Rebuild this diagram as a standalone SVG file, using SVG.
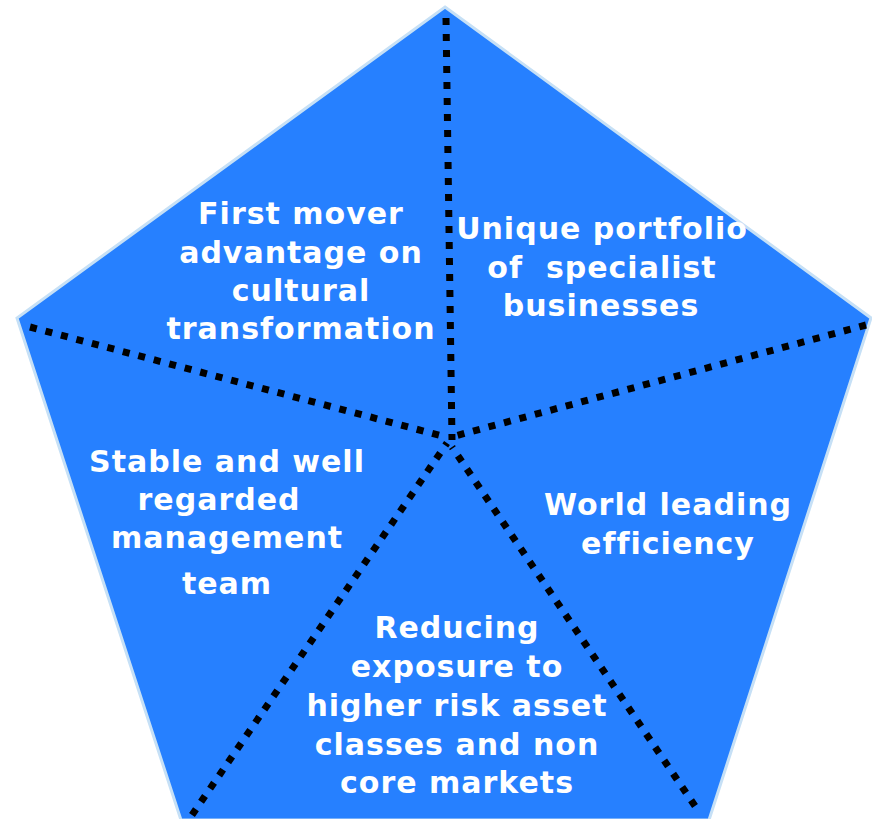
<svg xmlns="http://www.w3.org/2000/svg" width="872" height="819" viewBox="0 0 872 819">
<style>
.lbl{font-family:"DejaVu Sans","Verdana",sans-serif;font-weight:bold;font-size:30px;letter-spacing:1px;fill:#ffffff;text-anchor:middle}
.div{fill:none;stroke:#000000;stroke-width:7;stroke-dasharray:7 9;stroke-linecap:butt}
</style>
<rect width="872" height="819" fill="#ffffff"/>
<g id="pentagon">
<polygon points="445,7 871,318 709,820 181,820 17,318" fill="#2680ff" stroke="#c6e0f6" stroke-width="3" stroke-linejoin="miter"/>
</g>
<g id="connectors">
<line class="div" x1="446" y1="18" x2="452" y2="440"/>
<line class="div" x1="866" y1="325" x2="455" y2="436"/>
<line class="div" x1="30" y1="327" x2="446" y2="437"/>
<line class="div" x1="192" y1="815" x2="447" y2="443"/>
<line class="div" x1="695" y1="806" x2="452" y2="447"/>
</g>
<g id="node-first-mover">
<text class="lbl" x="301" y="224">First mover</text>
<text class="lbl" x="301" y="263">advantage on</text>
<text class="lbl" x="301" y="301">cultural</text>
<text class="lbl" x="301" y="339">transformation</text>
</g>
<g id="node-unique-portfolio">
<text class="lbl" x="602" y="239">Unique portfolio</text>
<text class="lbl" x="602" y="278" xml:space="preserve">of  specialist</text>
<text class="lbl" x="601" y="316">businesses</text>
</g>
<g id="node-stable-management">
<text class="lbl" x="227" y="472">Stable and well</text>
<text class="lbl" x="219" y="510">regarded</text>
<text class="lbl" x="227" y="548">management</text>
<text class="lbl" x="227" y="594">team</text>
</g>
<g id="node-world-leading">
<text class="lbl" x="668" y="515">World leading</text>
<text class="lbl" x="668" y="554">efficiency</text>
</g>
<g id="node-reducing-exposure">
<text class="lbl" x="457" y="638">Reducing</text>
<text class="lbl" x="457" y="677">exposure to</text>
<text class="lbl" x="457" y="716">higher risk asset</text>
<text class="lbl" x="457" y="755">classes and non</text>
<text class="lbl" x="457" y="793">core markets</text>
</g>
</svg>
